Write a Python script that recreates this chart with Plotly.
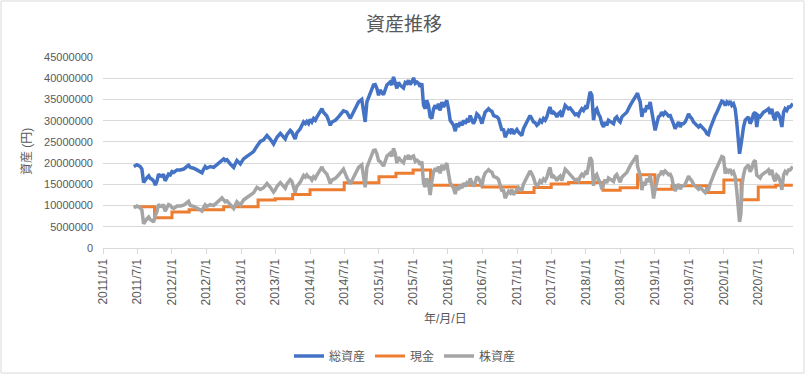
import plotly.graph_objects as go
from bisect import bisect_right

# ---------------- data (values in million yen) ----------------
total_dates = [
    "2011-06-13", "2011-06-30", "2011-07-17", "2011-07-26", "2011-08-04", "2011-08-13", "2011-08-22", "2011-08-31",
    "2011-09-08", "2011-09-17", "2011-09-26", "2011-10-05", "2011-10-14", "2011-10-22", "2011-10-31", "2011-11-09",
    "2011-11-17", "2011-11-26", "2011-12-06", "2011-12-14", "2011-12-23", "2012-01-01", "2012-01-10", "2012-01-28",
    "2012-02-14", "2012-03-03", "2012-03-20", "2012-03-29", "2012-04-07", "2012-04-25", "2012-05-12", "2012-05-30",
    "2012-06-08", "2012-06-17", "2012-06-25", "2012-07-04", "2012-07-22", "2012-08-09", "2012-08-26", "2012-09-13",
    "2012-09-22", "2012-10-01", "2012-10-09", "2012-10-18", "2012-11-05", "2012-11-23", "2012-12-01", "2012-12-10",
    "2012-12-28", "2013-01-14", "2013-02-01", "2013-02-19", "2013-03-08", "2013-03-26", "2013-04-13", "2013-04-30",
    "2013-05-18", "2013-06-05", "2013-06-22", "2013-07-01", "2013-07-10", "2013-07-28",
    "2013-08-14", "2013-08-23", "2013-09-01", "2013-09-18", "2013-09-27", "2013-10-06", "2013-10-14", "2013-10-23",
    "2013-11-10", "2013-11-28", "2013-12-07", "2013-12-15", "2013-12-24", "2014-01-02", "2014-01-11", "2014-01-20",
    "2014-01-29", "2014-02-07", "2014-02-24", "2014-03-05", "2014-03-13", "2014-03-22", "2014-03-31", "2014-04-09",
    "2014-04-18", "2014-04-27", "2014-05-15", "2014-06-01", "2014-06-19", "2014-06-27", "2014-07-15", "2014-08-02",
    "2014-08-10", "2014-08-28", "2014-09-15", "2014-10-02", "2014-10-11", "2014-10-20", "2014-10-29", "2014-11-07",
    "2014-11-15", "2014-12-03", "2014-12-12", "2014-12-21", "2014-12-30", "2015-01-07", "2015-01-25", "2015-02-03",
    "2015-02-12", "2015-03-01", "2015-03-10", "2015-03-19", "2015-03-28", "2015-04-06", "2015-04-14", "2015-04-23",
    "2015-05-11", "2015-05-20", "2015-05-29", "2015-06-06", "2015-06-15", "2015-06-24", "2015-07-03", "2015-07-12",
    "2015-07-21", "2015-07-29", "2015-08-07", "2015-08-16", "2015-08-25", "2015-09-03", "2015-09-11", "2015-09-20",
    "2015-09-29", "2015-10-08", "2015-10-17", "2015-10-26", "2015-11-03", "2015-11-12", "2015-11-21",
    "2015-11-30", "2015-12-09", "2015-12-26", "2016-01-04", "2016-01-13", "2016-01-31", "2016-02-09", "2016-02-17",
    "2016-02-26", "2016-03-06", "2016-03-15", "2016-03-24", "2016-04-01", "2016-04-10", "2016-04-19", "2016-04-28",
    "2016-05-07", "2016-05-15", "2016-05-24", "2016-06-02", "2016-06-11", "2016-06-20", "2016-06-29", "2016-07-07",
    "2016-07-16", "2016-07-25", "2016-08-03", "2016-08-12", "2016-08-21", "2016-08-30", "2016-09-16", "2016-09-25",
    "2016-10-04", "2016-10-13", "2016-10-21", "2016-10-30", "2016-11-08", "2016-11-17", "2016-11-26", "2016-12-04",
    "2016-12-13", "2016-12-22", "2016-12-31", "2017-01-09", "2017-01-18", "2017-01-26", "2017-02-04", "2017-02-22",
    "2017-03-03", "2017-03-11", "2017-03-20", "2017-03-29", "2017-04-07", "2017-04-16", "2017-04-25", "2017-05-03",
    "2017-05-12", "2017-05-21", "2017-05-30", "2017-06-08", "2017-06-17", "2017-06-25", "2017-07-04", "2017-07-13",
    "2017-07-22", "2017-07-31", "2017-08-08", "2017-08-17", "2017-08-26", "2017-09-04", "2017-09-13", "2017-09-22",
    "2017-09-30", "2017-10-09", "2017-10-18", "2017-10-27", "2017-11-05", "2017-11-13", "2017-11-22", "2017-12-01",
    "2017-12-10", "2017-12-19", "2017-12-28", "2018-01-06", "2018-01-14", "2018-01-23", "2018-02-01", "2018-02-06",
    "2018-02-10", "2018-02-19", "2018-02-27", "2018-03-08", "2018-03-17", "2018-03-26", "2018-04-04", "2018-04-12",
    "2018-04-21", "2018-04-30",
    "2018-05-27", "2018-06-04", "2018-06-13", "2018-06-22", "2018-07-01", "2018-07-10", "2018-07-19", "2018-08-05",
    "2018-08-23", "2018-09-09", "2018-09-18", "2018-09-27", "2018-10-01", "2018-10-06", "2018-10-15", "2018-10-24",
    "2018-11-01", "2018-11-10", "2018-11-19", "2018-11-28", "2018-12-07", "2018-12-16", "2018-12-25", "2019-01-02",
    "2019-01-11", "2019-01-20", "2019-01-29", "2019-02-06", "2019-02-15", "2019-02-24", "2019-03-05", "2019-03-14",
    "2019-03-23", "2019-03-31", "2019-04-09", "2019-04-18", "2019-04-27", "2019-05-06", "2019-05-15", "2019-05-23",
    "2019-06-01", "2019-06-10", "2019-06-19", "2019-06-28", "2019-07-07", "2019-07-15", "2019-07-24", "2019-08-02",
    "2019-08-11", "2019-08-20", "2019-08-29", "2019-09-06", "2019-09-15", "2019-09-24", "2019-10-03", "2019-10-11",
    "2019-10-20", "2019-10-29", "2019-11-07", "2019-11-16", "2019-11-25", "2019-12-03", "2019-12-12", "2019-12-21",
    "2019-12-30", "2020-01-08", "2020-01-17", "2020-01-25", "2020-02-03", "2020-02-12", "2020-02-21", "2020-03-01",
    "2020-03-09", "2020-03-18", "2020-03-24", "2020-03-31", "2020-04-07", "2020-04-14", "2020-04-23", "2020-05-01",
    "2020-05-10", "2020-05-19", "2020-05-28", "2020-06-06", "2020-06-15", "2020-06-23", "2020-07-02", "2020-07-11",
    "2020-07-20", "2020-07-29", "2020-08-06", "2020-08-15", "2020-08-24", "2020-09-02", "2020-09-11", "2020-09-20",
    "2020-09-28", "2020-10-07", "2020-10-16", "2020-10-25", "2020-11-03", "2020-11-12", "2020-11-20", "2020-11-29",
    "2020-12-08", "2020-12-17", "2020-12-26", "2020-12-31",
]
total_values = [
    19.2, 19.6, 19.2, 18.6, 15.4, 16.1, 16.6, 17.0,
    16.4, 16.2, 15.8, 14.8, 15.8, 17.4, 17.0, 16.9,
    17.4, 15.8, 17.0, 17.4, 17.2, 18.0, 17.8, 18.4,
    18.4, 18.6, 19.2, 19.5, 19.0, 18.8, 18.4, 17.8,
    17.7, 18.6, 19.2, 18.8, 19.2, 19.0, 19.6, 20.3,
    20.8, 21.0, 20.6, 20.8, 19.8, 19.0, 19.8, 20.6,
    19.8, 21.0, 21.6, 22.2, 22.7, 24.0, 25.1, 25.5,
    26.5, 25.6, 24.5, 25.3, 26.1, 27.0,
    26.3, 25.7, 26.7, 27.7, 27.3, 26.5, 25.7, 27.1,
    28.1, 29.7, 29.3, 29.8, 29.3, 30.3, 29.7, 30.5,
    30.1, 30.9, 32.0, 32.8, 32.0, 31.4, 31.1, 30.1,
    28.9, 29.7, 30.1, 30.9, 31.9, 32.3, 32.0, 30.5,
    31.2, 33.0, 34.4, 35.0, 32.8, 29.7, 34.4, 35.4,
    36.8, 38.4, 38.5, 37.6, 36.0, 37.2, 36.1, 37.2,
    38.4, 39.1, 38.4, 40.3, 39.1, 37.6, 39.0, 38.4,
    37.7, 39.0, 38.8, 39.5, 38.5, 39.1, 40.1, 38.8,
    39.1, 38.8, 38.0, 38.8, 33.6, 32.8, 34.8, 33.6,
    30.9, 30.5, 32.8, 33.6, 32.8, 34.0, 32.4,
    34.4, 33.2, 34.8, 32.8, 30.1, 28.9, 27.5, 29.3,
    28.5, 29.7, 28.9, 30.1, 29.3, 30.1, 29.7, 31.2,
    30.1, 29.3, 30.1, 31.6, 31.2, 30.5, 29.3, 30.9,
    32.0, 32.4, 32.8, 32.4, 32.2, 31.2, 30.9, 30.5,
    28.9, 27.7, 28.1, 26.1, 26.9, 27.7, 27.3, 28.1,
    26.9, 27.5, 27.9, 27.3, 26.9, 26.5, 28.1, 29.7,
    30.9, 31.2, 30.5, 29.7, 29.5, 28.9, 29.3, 30.1,
    29.7, 30.5, 30.1, 30.9, 32.4, 33.2, 31.6, 32.0,
    31.6, 30.9, 31.6, 32.0, 30.9, 32.0, 33.6, 33.2,
    32.8, 33.0, 32.4, 31.9, 31.4, 31.6, 31.2, 32.2,
    32.8, 32.4, 33.2, 32.8, 34.8, 36.8, 36.0, 33.2,
    30.1, 32.4, 32.8, 31.6, 30.9, 29.3, 28.5, 29.7,
    28.9, 30.1,
    29.3, 30.5, 30.9, 30.1, 29.7, 30.9, 31.2, 32.0,
    33.6, 34.8, 35.6, 36.0, 36.5, 35.6, 34.4, 30.9,
    32.8, 32.0, 33.6, 32.8, 34.4, 32.0, 28.9, 27.7,
    29.3, 30.9, 31.2, 32.0, 31.4, 32.0, 31.6, 31.1,
    31.2, 30.5, 29.3, 28.1, 28.9, 29.7, 28.5, 29.3,
    29.3, 29.7, 30.6, 31.6, 30.9, 30.5, 29.7, 29.3,
    28.9, 28.5, 28.9, 28.5, 28.1, 27.7, 26.9, 26.7,
    28.1, 29.3, 30.5, 31.2, 32.0, 32.8, 33.6, 34.6,
    34.4, 33.6, 34.4, 34.0, 34.6, 33.6, 34.0, 32.8,
    29.7, 26.1, 22.2, 24.1, 26.5, 28.5, 30.1, 30.5,
    30.9, 29.3, 30.1, 31.6, 32.0, 28.5, 31.2, 30.9,
    31.6, 32.0, 32.2, 32.4, 32.8, 31.6, 32.8, 30.9,
    30.1, 32.0, 31.6, 30.5, 28.5, 32.0, 32.8, 32.4,
    33.2, 33.2, 33.6, 34.0,
]

cash_dates = [
    "2011-06-13", "2011-10-01", "2012-01-01", "2012-04-01", "2012-10-01", "2013-04-01", "2013-07-01",
    "2013-10-01", "2014-01-01", "2014-07-01", "2015-01-01", "2015-04-01", "2015-07-01", "2015-10-01",
    "2016-07-01", "2017-01-01", "2017-04-01", "2017-07-01", "2017-10-01", "2018-04-01", "2018-07-01",
    "2018-10-01", "2019-01-01", "2019-04-01", "2019-10-01", "2020-01-01", "2020-04-01", "2020-07-01",
    "2020-10-01", "2020-12-31",
]
cash_values = [
    9.7, 7.15, 8.5, 9.0, 9.7, 11.3, 11.6,
    12.6, 13.7, 15.4, 16.8, 17.6, 18.4, 14.8,
    14.35, 13.05, 14.25, 15.05, 15.45, 13.6, 14.2,
    17.25, 13.85, 14.65, 13.05, 16.05, 11.35, 14.4,
    14.8, 14.8,
]

tick_dates = [
    "2011-01-01", "2011-07-01", "2012-01-01", "2012-07-01", "2013-01-01", "2013-07-01", "2014-01-01",
    "2014-07-01", "2015-01-01", "2015-07-01", "2016-01-01", "2016-07-01", "2017-01-01", "2017-07-01",
    "2018-01-01", "2018-07-01", "2019-01-01", "2019-07-01", "2020-01-01", "2020-07-01", "2021-01-01",
]
tick_labels = [
    "2011/1/1", "2011/7/1", "2012/1/1", "2012/7/1", "2013/1/1", "2013/7/1", "2014/1/1",
    "2014/7/1", "2015/1/1", "2015/7/1", "2016/1/1", "2016/7/1", "2017/1/1", "2017/7/1",
    "2018/1/1", "2018/7/1", "2019/1/1", "2019/7/1", "2020/1/1", "2020/7/1", "",
]
y_ticks = [0, 5000000, 10000000, 15000000, 20000000, 25000000, 30000000, 35000000, 40000000, 45000000]

# ---------------- derived series ----------------
MAN = 1_000_000
total_yen = [v * MAN for v in total_values]
cash_yen = [v * MAN for v in cash_values]


def cash_on(d):
    i = bisect_right(cash_dates, d) - 1
    return cash_yen[max(i, 0)]


stock_yen = [t - cash_on(d) for d, t in zip(total_dates, total_yen)]

FONT = "Liberation Sans, Arial, Noto Sans CJK JP, sans-serif"
TXT = "#595959"
GRID = "#d9d9d9"

fig = go.Figure()
fig.add_trace(go.Scatter(x=total_dates, y=total_yen, mode="lines", name="総資産",
                         line=dict(color="#4472C4", width=3.5)))
fig.add_trace(go.Scatter(x=cash_dates, y=cash_yen, mode="lines", name="現金",
                         line=dict(color="#ED7D31", width=3, shape="hv")))
fig.add_trace(go.Scatter(x=total_dates, y=stock_yen, mode="lines", name="株資産",
                         line=dict(color="#A5A5A5", width=3.5)))

L, R, T, B = 103, 15, 57, 128
W, H = 808, 376
pw, ph = W - L - R, H - T - B


def px_x(px):
    return (px - L) / pw


def px_y(py):
    return (H - B - py) / ph


fig.update_layout(
    width=W, height=H, autosize=False,
    margin=dict(l=L, r=R, t=T, b=B, pad=0, autoexpand=False),
    paper_bgcolor="white", plot_bgcolor="white",
    font=dict(family=FONT, color=TXT, size=11),
    title=dict(text="資産推移", x=0.5, xanchor="center", y=1 - 24 / H, yanchor="middle",
               font=dict(family=FONT, size=19, color=TXT)),
    showlegend=True,
    legend=dict(orientation="h", xref="container", yref="container",
                x=405 / W, xanchor="center", y=1 - 356 / H, yanchor="middle",
                font=dict(family=FONT, size=12, color=TXT), bgcolor="rgba(0,0,0,0)"),
    xaxis=dict(type="date", range=["2011-01-01", "2021-01-01"], automargin=False,
               tickmode="array", tickvals=tick_dates, ticktext=tick_labels, tickangle=-90,
               showgrid=False, showline=True, linecolor=GRID, linewidth=1,
               ticks="outside", ticklen=5, tickcolor=GRID, tickwidth=1,
               tickfont=dict(family=FONT, size=12, color=TXT), zeroline=False),
    yaxis=dict(range=[0, 45000000], tickmode="array", tickvals=y_ticks, tickformat="d", automargin=False,
               showgrid=True, gridcolor=GRID, gridwidth=1, showline=False, zeroline=False,
               ticks="", ticklabelstandoff=9,
               tickfont=dict(family=FONT, size=11, color=TXT)),
    annotations=[
        dict(text="資産 (円)", xref="paper", yref="paper", x=px_x(27), y=px_y(152),
             xanchor="center", yanchor="middle", textangle=-90, showarrow=False,
             font=dict(family=FONT, size=12, color=TXT)),
        dict(text="年/月/日", xref="paper", yref="paper", x=px_x(445), y=px_y(319),
             xanchor="center", yanchor="middle", showarrow=False,
             font=dict(family=FONT, size=12, color=TXT)),
    ],
    shapes=[
        dict(type="rect", xref="paper", yref="paper", x0=px_x(1), x1=px_x(804),
             y0=px_y(373), y1=px_y(1), line=dict(color=GRID, width=1), layer="below"),
    ],
)

fig.write_html("out.html",
               config=dict(displayModeBar=False, responsive=False),
               post_script="document.body.style.margin='0px';document.body.style.overflow='hidden';")
